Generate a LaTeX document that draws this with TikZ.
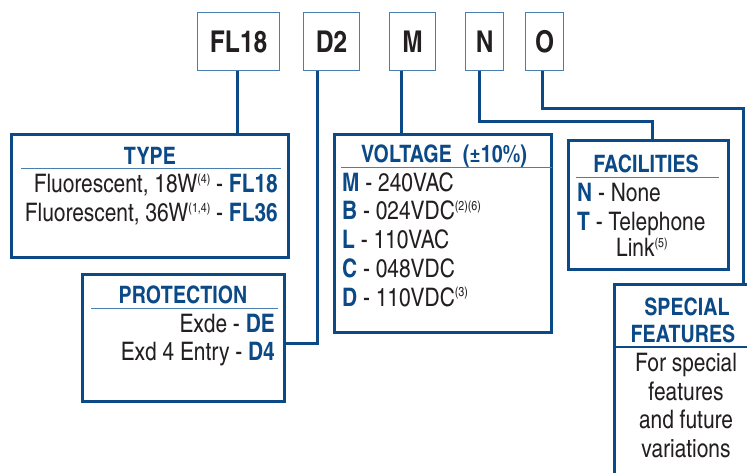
\documentclass[tikz,border=0pt]{standalone}
\usepackage{fontspec}
\setmainfont{texgyreheroscn}[Extension=.otf, UprightFont=*-regular, BoldFont=*-bold, ItalicFont=*-italic, BoldItalicFont=*-bolditalic]
\usetikzlibrary{calc}
\definecolor{boxblue}{HTML}{0B4A86}
\definecolor{thinblue}{HTML}{4A7DB0}
\definecolor{txt}{HTML}{231F20}
\newcommand\supx[1]{\raisebox{9.5pt}{\fontsize{13}{13}\selectfont #1}}
\newcommand\kb[1]{\textbf{\color{boxblue}#1}}
\begin{document}
\begin{tikzpicture}[x=1pt,y=1pt,
 codebox/.style={draw=thinblue, line width=1.3pt, fill=white, anchor=north west, inner sep=0, font=\fontsize{30}{30}\selectfont\bfseries, text=txt},
 bigbox/.style={draw=boxblue, line width=2.6pt, anchor=north west, inner sep=0},
 conn/.style={draw=boxblue, line width=2.6pt},
 rulel/.style={draw=thinblue, line width=1pt},
 ttl/.style={anchor=base, inner sep=0, font=\fontsize{24}{24}\selectfont\bfseries, text=boxblue},
 bodyr/.style={anchor=base east, inner sep=0, font=\fontsize{25.5}{25.5}\selectfont, text=txt},
 bodyl/.style={anchor=base west, inner sep=0, font=\fontsize{25.5}{25.5}\selectfont, text=txt},
 bodyc/.style={anchor=base, inner sep=0, font=\fontsize{25.5}{25.5}\selectfont, text=txt}]
\useasboundingbox (0,0) rectangle (747,-473);
\clip (0,0) rectangle (747,-473);
% code boxes
\node[codebox, minimum width=82, minimum height=58] (fl18) at (197,-12) {FL18};
\node[codebox, minimum width=56, minimum height=58] (d2) at (303,-12) {D2};
\node[codebox, minimum width=46, minimum height=58] (m) at (389,-12) {M};
\node[codebox, minimum width=38, minimum height=58] (n) at (465,-12) {N};
\node[codebox, minimum width=38, minimum height=58] (o) at (525,-12) {O};
% big boxes
\node[bigbox, minimum width=277, minimum height=123] (type) at (10,-133) {};
\node[bigbox, minimum width=202, minimum height=127] (prot) at (81,-273) {};
\node[bigbox, minimum width=217, minimum height=198] (volt) at (333,-133) {};
\node[bigbox, minimum width=160, minimum height=129] (fac) at (567,-139) {};
\node[bigbox, minimum width=258, minimum height=230] (spec) at (613,-283) {};
% connectors
\coordinate (fl18out) at ($(fl18.south)+(-1,0)$);
\coordinate (d2out) at ($(d2.south)+(-14,0)$);
\coordinate (mout) at ($(m.south)+(-11,0)$);
\coordinate (nout) at ($(n.south)+(-5,0)$);
\coordinate (oout) at ($(o.south)+(-2,0)$);
\draw[conn] (fl18out) -- (fl18out |- type.north);
\draw[conn] (d2out) |- ($(prot.east)+(0,-5.5)$);
\draw[conn] (mout) -- (mout |- volt.north);
\draw[conn] (nout) -- ++(0,-50) -| ($(fac.north)+(4,0)$);
\draw[conn] (oout) -- ++(0,-37) -| (spec.north);
% title rules
\draw[rulel] ($(type.north west)+(11,-36)$) -- ($(type.north east)+(-9,-36)$);
\draw[rulel] ($(prot.north west)+(10,-35)$) -- ($(prot.north east)+(-8,-35)$);
\draw[rulel] ($(volt.north west)+(8,-35)$) -- ($(volt.north east)+(-1,-35)$);
\draw[rulel] ($(fac.north west)+(9,-39)$) -- ($(fac.north east)+(-11,-39)$);
\draw[draw=boxblue, line width=2pt] ($(spec.north west)+(0,-64)$) -- ($(spec.north east)+(0,-64)$);
% TYPE
\node[ttl] (typet) at (150,-165) {TYPE};
\node[bodyr] (type1) at (278,-193) {Fluorescent, 18W\supx{(4)} - \kb{FL18}};
\node[bodyr] (type2) at (278,-222) {Fluorescent, 36W\supx{(1,4)} - \kb{FL36}};
% PROTECTION
\node[ttl] (prott) at (183,-303) {PROTECTION};
\node[bodyr] (prot1) at (275,-332) {Exde - \kb{DE}};
\node[bodyr] (prot2) at (275,-360) {Exd 4 Entry - \kb{D4}};
% VOLTAGE
\node[ttl] (voltt) at (444,-163) {VOLTAGE\ \ (±10\%)};
\node[bodyl] (volt1) at (342,-192) {\kb{M} - 240VAC};
\node[bodyl] (volt2) at (342,-220) {\kb{B} - 024VDC\supx{(2)(6)}};
\node[bodyl] (volt3) at (342,-249) {\kb{L} - 110VAC};
\node[bodyl] (volt4) at (342,-277) {\kb{C} - 048VDC};
\node[bodyl] (volt5) at (342,-306) {\kb{D} - 110VDC\supx{(3)}};
% FACILITIES
\node[ttl] (fact) at (646,-173) {FACILITIES};
\node[bodyl] (fac1) at (577,-202) {\kb{N} - None};
\node[bodyl] (fac2) at (577,-230) {\kb{T} - Telephone};
\node[bodyl] (fac3) at (616,-257) {Link\supx{(5)}};
% SPECIAL FEATURES
\node[ttl] (spect1) at (687,-315) {SPECIAL};
\node[ttl] (spect2) at (683,-342) {FEATURES};
\node[bodyc] (spec1) at (686,-371) {For special};
\node[bodyc] (spec2) at (686,-400) {features};
\node[bodyc] (spec3) at (686,-428) {and future};
\node[bodyc] (spec4) at (686,-457) {variations};
\end{tikzpicture}
\end{document}
